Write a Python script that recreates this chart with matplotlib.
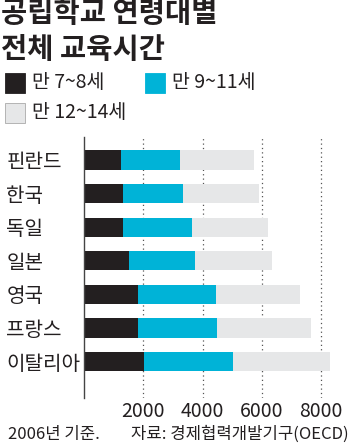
#!/usr/bin/env python3
"""공립학교 연령대별 전체 교육시간 - stacked horizontal bar chart."""

import matplotlib

matplotlib.use("Agg")
import matplotlib.pyplot as plt
from matplotlib.patches import Rectangle

plt.rcParams["font.family"] = ["Noto Sans CJK KR", "DejaVu Sans"]

countries = ["핀란드", "한국", "독일", "일본", "영국", "프랑스", "이탈리아"]
age_7_8 = [1250, 1315, 1315, 1505, 1820, 1820, 2035]
age_9_11 = [1990, 2025, 2315, 2225, 2630, 2675, 3000]
age_12_14 = [2485, 2575, 2565, 2600, 2825, 3150, 3270]
series_labels = ["만 7~8세", "만 9~11세", "만 12~14세"]
ticks = [2000, 4000, 6000, 8000]

colors = ["#231f20", "#00b3d7", "#e6e7e8"]
DPI = 100

fig = plt.figure(figsize=(3.5, 4.45), dpi=DPI)
ax = fig.add_axes([84 / 350, 1 - 398 / 445, 266 / 350, 261 / 445])

pos = list(range(len(countries)))
left = [0] * len(countries)
for vals, color in zip([age_7_8, age_9_11, age_12_14], colors):
    ax.barh(pos, vals, left=left, height=0.57, color=color, linewidth=0, zorder=2)
    left = [a + b for a, b in zip(left, vals)]

ax.set_xlim(0, 8970)
ax.set_ylim(7.086, -0.684)

for t in ticks:
    ax.axvline(t, color="#555555", linestyle=(0, (1, 2.5)), linewidth=0.9, zorder=1)

for side in ["top", "right", "bottom"]:
    ax.spines[side].set_visible(False)
ax.spines["left"].set_color("#444444")
ax.spines["left"].set_linewidth(1.0)

ax.set_xticks(ticks)
ax.set_xticklabels([str(t) for t in ticks], fontsize=14, color="#231f20")
ax.tick_params(axis="x", length=0, pad=2)

ax.set_yticks(pos)
ax.set_yticklabels(countries, fontsize=14.5, color="#231f20", ha="left")
ax.tick_params(axis="y", length=0, pad=56)

# title
fig.text(1 / 350, 1 - 14 / 445, "공립학교 연령대별", fontsize=20.5, fontweight="bold",
         color="#231f20", va="center", ha="left")
fig.text(1 / 350, 1 - 50 / 445, "전체 교육시간", fontsize=20.5, fontweight="bold",
         color="#231f20", va="center", ha="left")

# legend
legend_items = [(5, 83), (145, 83), (5, 113)]
for (lx, ly), label, color in zip(legend_items, series_labels, colors):
    fig.patches.append(Rectangle((lx / 350, 1 - (ly + 10) / 445), 20 / 350, 20 / 445,
                                 transform=fig.transFigure, facecolor=color,
                                 edgecolor="#aaaaaa" if color == "#e6e7e8" else color,
                                 linewidth=0.6))
    fig.text((lx + 27) / 350, 1 - ly / 445, label, fontsize=14, color="#231f20",
             va="center", ha="left")

# footer
fig.text(8 / 350, 1 - 434 / 445, "2006년 기준.", fontsize=12, color="#231f20",
         va="center", ha="left")
fig.text(349 / 350, 1 - 434 / 445, "자료: 경제협력개발기구(OECD)", fontsize=12,
         color="#231f20", va="center", ha="right")

fig.savefig("out.png", dpi=DPI)
